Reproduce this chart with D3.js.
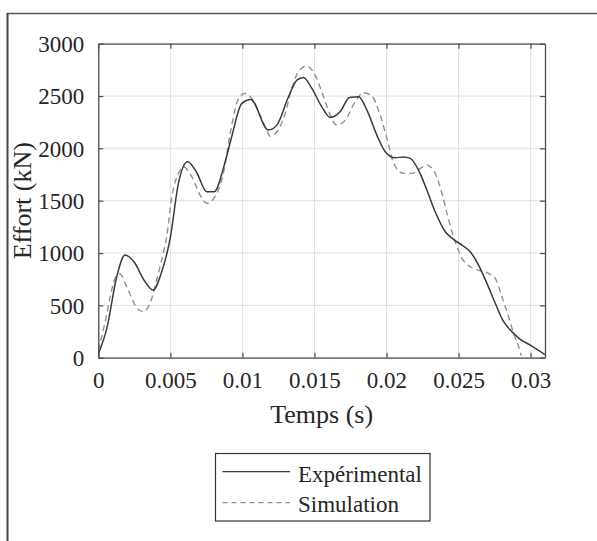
<!DOCTYPE html>
<html>
<head>
<meta charset="utf-8">
<script src="https://cdn.jsdelivr.net/npm/d3@7"></script>
<style>
  html, body { margin: 0; padding: 0; background: #fff; }
  svg { display: block; }
  text { font-family: "Liberation Serif", "Times New Roman", serif; fill: #262626; }
</style>
</head>
<body>
<script>
// ---- Data ----
const expTime = [0, 0.0006, 0.00128, 0.00185, 0.0025, 0.0032, 0.0038, 0.0044, 0.005, 0.00556, 0.0062, 0.0068, 0.00753, 0.00806, 0.00868, 0.0092, 0.00996, 0.01058, 0.0118, 0.01239, 0.0132, 0.01378, 0.01424, 0.01482, 0.01551, 0.01609, 0.01678, 0.01743, 0.01806, 0.01864, 0.01933, 0.01991, 0.0206, 0.02118, 0.02165, 0.02222, 0.0228, 0.02338, 0.02408, 0.02465, 0.02524, 0.02581, 0.02639, 0.02697, 0.02755, 0.02813, 0.02871, 0.02928, 0.02998, 0.031];
const expForce = [35, 285, 774, 981, 912, 735, 647, 821, 1150, 1666, 1872, 1777, 1586, 1586, 1809, 2080, 2430, 2468, 2175, 2222, 2493, 2652, 2678, 2573, 2397, 2296, 2350, 2487, 2493, 2366, 2127, 1968, 1910, 1918, 1904, 1793, 1602, 1394, 1203, 1131, 1076, 1012, 885, 710, 520, 344, 248, 176, 121, 30];

const simTime = [0, 0.00047, 0.00093, 0.00121, 0.0015, 0.00197, 0.00262, 0.00313, 0.00362, 0.00408, 0.0044, 0.00475, 0.0051, 0.00556, 0.0059, 0.00649, 0.00706, 0.00753, 0.0081, 0.00868, 0.00915, 0.00972, 0.01019, 0.01065, 0.01123, 0.01169, 0.01192, 0.01239, 0.01297, 0.01343, 0.01389, 0.01447, 0.01505, 0.01563, 0.01609, 0.01655, 0.01714, 0.01783, 0.0184, 0.01898, 0.01956, 0.02003, 0.0205, 0.02118, 0.02177, 0.02235, 0.0228, 0.02338, 0.02385, 0.0242, 0.02454, 0.02489, 0.02524, 0.02581, 0.0265, 0.02708, 0.02755, 0.02801, 0.02847, 0.02882, 0.02917, 0.02935];
const simForce = [70, 340, 647, 774, 800, 678, 487, 440, 530, 760, 935, 1160, 1538, 1761, 1824, 1729, 1554, 1475, 1538, 1761, 2140, 2470, 2525, 2478, 2318, 2175, 2117, 2159, 2334, 2573, 2732, 2786, 2700, 2493, 2318, 2222, 2270, 2445, 2531, 2500, 2318, 2096, 1857, 1761, 1761, 1809, 1840, 1761, 1570, 1379, 1203, 1060, 949, 869, 831, 806, 758, 583, 392, 233, 105, 20];

const xTicks = [0, 0.005, 0.01, 0.015, 0.02, 0.025, 0.03];
const xTickLabels = ["0", "0.005", "0.01", "0.015", "0.02", "0.025", "0.03"];
const yTicks = [0, 500, 1000, 1500, 2000, 2500, 3000];
const yTickLabels = ["0", "500", "1000", "1500", "2000", "2500", "3000"];
const seriesNames = ["Expérimental", "Simulation"];
const xLabel = "Temps (s)";
const yLabel = "Effort (kN)";

// ---- Layout ----
const W = 597, H = 541;
const plot = { left: 98.3, right: 545, top: 43.7, bottom: 357.7 };

const svg = d3.select("body").append("svg").attr("width", W).attr("height", H);

// outer frame (top & left edges only, as in reference)
svg.append("line").attr("x1", 7).attr("x2", W).attr("y1", 13.5).attr("y2", 13.5)
  .attr("stroke", "#555").attr("stroke-width", 1.5);
svg.append("line").attr("x1", 7.5).attr("x2", 7.5).attr("y1", 13).attr("y2", H)
  .attr("stroke", "#444").attr("stroke-width", 2);

const x = d3.scaleLinear().domain([0, 0.031]).range([plot.left, plot.right]);
const y = d3.scaleLinear().domain([0, 3000]).range([plot.bottom, plot.top]);

// grid
const grid = svg.append("g");
grid.selectAll(".gx").data(xTicks).enter().append("line")
  .attr("x1", d => x(d)).attr("x2", d => x(d)).attr("y1", plot.top).attr("y2", plot.bottom)
  .attr("stroke", "#e0e0e0").attr("stroke-width", 1);
grid.selectAll(".gy").data(yTicks).enter().append("line")
  .attr("y1", d => y(d)).attr("y2", d => y(d)).attr("x1", plot.left).attr("x2", plot.right)
  .attr("stroke", "#e0e0e0").attr("stroke-width", 1);

// lines
const lineGen = d3.line().x(d => x(d[0])).y(d => y(d[1])).curve(d3.curveMonotoneX);
const expData = expTime.map((t, i) => [t, expForce[i]]);
const simData = simTime.map((t, i) => [t, simForce[i]]);

svg.append("clipPath").attr("id", "clip").append("rect")
  .attr("x", plot.left).attr("y", plot.top).attr("width", plot.right - plot.left).attr("height", plot.bottom - plot.top);

svg.append("path").datum(simData).attr("d", lineGen).attr("fill", "none")
  .attr("stroke", "#8f8f8f").attr("stroke-width", 1.4).attr("stroke-dasharray", "6,4")
  .attr("clip-path", "url(#clip)");
svg.append("path").datum(expData).attr("d", lineGen).attr("fill", "none")
  .attr("stroke", "#3a3a3a").attr("stroke-width", 1.5)
  .attr("clip-path", "url(#clip)");

// axes (inward ticks, mirrored)
const tickLen = 5;
const axisColor = "#4d4d4d";
const fmtX = (d, i) => xTickLabels[i];
const fmtY = (d, i) => yTickLabels[i];

const gBottom = svg.append("g").attr("transform", `translate(0,${plot.bottom})`)
  .call(d3.axisBottom(x).tickValues(xTicks).tickFormat(fmtX).tickSizeInner(-tickLen).tickSizeOuter(0).tickPadding(14));
const gTop = svg.append("g").attr("transform", `translate(0,${plot.top})`)
  .call(d3.axisTop(x).tickValues(xTicks).tickFormat("").tickSizeInner(-tickLen).tickSizeOuter(0));
const gLeft = svg.append("g").attr("transform", `translate(${plot.left},0)`)
  .call(d3.axisLeft(y).tickValues(yTicks).tickFormat(fmtY).tickSizeInner(-tickLen).tickSizeOuter(0).tickPadding(14));
const gRight = svg.append("g").attr("transform", `translate(${plot.right},0)`)
  .call(d3.axisRight(y).tickValues(yTicks).tickFormat("").tickSizeInner(-tickLen).tickSizeOuter(0));

[gBottom, gTop, gLeft, gRight].forEach(g => {
  g.select(".domain").attr("stroke", axisColor).attr("stroke-width", 1.3);
  g.selectAll(".tick line").attr("stroke", axisColor).attr("stroke-width", 1.2);
  g.selectAll(".tick text").attr("font-family", "Liberation Serif, Times New Roman, serif")
    .attr("font-size", 23).attr("fill", "#262626");
});
gLeft.selectAll(".tick text").attr("dy", "0.34em");
gBottom.selectAll(".tick text").attr("dy", "0.71em");

// axis labels
svg.append("text").attr("x", (plot.left + plot.right) / 2).attr("y", 423)
  .attr("text-anchor", "middle").attr("font-size", 26).text(xLabel);
svg.append("text").attr("transform", `translate(31,${(plot.top + plot.bottom) / 2}) rotate(-90)`)
  .attr("text-anchor", "middle").attr("font-size", 26).text(yLabel);

// legend
const lg = svg.append("g");
lg.append("rect").attr("x", 215.5).attr("y", 453.5).attr("width", 214.5).attr("height", 67.5)
  .attr("fill", "#fff").attr("stroke", "#333").attr("stroke-width", 1.2);
const legendRows = [
  { name: seriesNames[0], color: "#3a3a3a", dash: null, ly: 471.7, ty: 481.5 },
  { name: seriesNames[1], color: "#8f8f8f", dash: "5,4", ly: 502.7, ty: 511.5 }
];
legendRows.forEach(r => {
  lg.append("line").attr("x1", 222.5).attr("x2", 290).attr("y1", r.ly).attr("y2", r.ly)
    .attr("stroke", r.color).attr("stroke-width", 1.3).attr("stroke-dasharray", r.dash);
  lg.append("text").attr("x", 298).attr("y", r.ty).attr("font-size", 23).text(r.name);
});
</script>
</body>
</html>
